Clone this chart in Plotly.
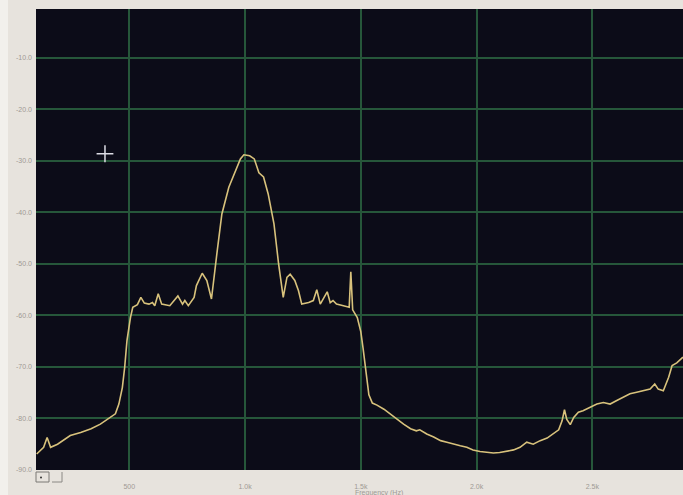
import plotly.graph_objects as go

# Spectrum trace: frequency (Hz) and level (dB)
freq_hz = [
    100, 130, 145, 160, 190, 220, 245, 290, 335, 375, 410, 440, 455, 470, 480, 490,
    505, 515, 535, 550, 565, 585, 600, 610, 625, 640, 675, 710, 730, 740, 755, 780,
    790, 815, 835, 855, 880, 900, 930, 960, 980, 995, 1010, 1020, 1040, 1050, 1060,
    1080, 1100, 1125, 1145, 1165, 1181, 1195, 1215, 1231, 1245, 1275, 1295, 1310,
    1325, 1355, 1368, 1380, 1395, 1425, 1450, 1457, 1465, 1485, 1500, 1510, 1525,
    1535, 1550, 1570, 1600, 1625, 1655, 1685, 1715, 1740, 1755, 1785, 1815, 1845,
    1872, 1900, 1930, 1958, 1985, 2015, 2045, 2073, 2100, 2131, 2160, 2188, 2217,
    2245, 2275, 2305, 2332, 2355, 2370, 2380, 2390, 2405, 2420, 2440, 2460, 2490,
    2520, 2548, 2577, 2606, 2635, 2663, 2692, 2720, 2750, 2770, 2785, 2807, 2830,
    2845, 2865, 2892,
]
level_db = [
    -86.9, -85.6, -83.7, -85.6, -85.0, -84.0, -83.3, -82.7, -82.0, -81.1, -80.1,
    -79.1, -77.2, -74.0, -70.1, -64.9, -60.4, -58.4, -57.9, -56.5, -57.6, -57.8,
    -57.5, -58.1, -55.8, -57.8, -58.1, -56.2, -57.8, -57.1, -58.1, -56.5, -54.2,
    -51.8, -53.2, -56.8, -47.4, -40.3, -35.1, -31.6, -29.6, -28.8, -28.9, -29.0,
    -29.6, -30.9, -32.3, -33.1, -36.4, -42.2, -50.0, -56.5, -52.6, -52.0, -53.2,
    -55.2, -57.8, -57.5, -57.1, -55.0, -57.8, -55.4, -57.5, -57.1, -57.8, -58.1,
    -58.4, -51.5, -58.9, -60.4, -63.1, -66.4, -72.0, -75.4, -77.0, -77.4, -78.2,
    -79.1, -80.1, -81.1, -82.0, -82.4, -82.2, -83.0, -83.6, -84.3, -84.6, -85.0,
    -85.3, -85.6, -86.1, -86.4, -86.6, -86.7, -86.6, -86.4, -86.1, -85.6, -84.6,
    -85.0, -84.3, -83.8, -83.0, -82.2, -80.4, -78.3, -80.2, -81.2, -79.8, -78.8,
    -78.5, -77.8, -77.2, -76.9, -77.2, -76.5, -75.9, -75.2, -74.9, -74.6, -74.3,
    -73.3, -74.3, -74.6, -72.0, -69.7, -69.2, -68.1,
]

# Axis ticks
x_tick_vals = [500, 1000, 1500, 2000, 2500]
x_tick_text = ["500", "1.0k", "1.5k", "2.0k", "2.5k"]
y_tick_vals = [-10, -20, -30, -40, -50, -60, -70, -80, -90]
y_tick_text = ["-10.0", "-20.0", "-30.0", "-40.0", "-50.0", "-60.0", "-70.0", "-80.0", "-90.0"]

# Cursor position
cursor_hz = [395]
cursor_db = [-28.6]

GRID = "#26573a"
LABEL = "#9e9a94"
PAPER = "#e7e3dd"

fig = go.Figure()
fig.add_trace(go.Scatter(
    x=freq_hz, y=level_db, mode="lines",
    line=dict(color="#d8c27c", width=1.6),
    hoverinfo="skip", showlegend=False,
))
fig.add_trace(go.Scatter(
    x=cursor_hz, y=cursor_db, mode="markers",
    marker=dict(symbol="cross-thin", size=12, line=dict(color="#dcdce4", width=1.5)),
    hoverinfo="skip", showlegend=False,
))

L, R, T, B = 36, 0, 9, 25
W, H = 683, 495
pw, ph = W - L - R, H - T - B


def px(xp):
    return (xp - L) / pw


def py(yp):
    return (H - B - yp) / ph


shapes = [
    # light strip on the far left of the panel
    dict(type="rect", xref="paper", yref="paper", x0=px(0), x1=px(8), y0=py(H), y1=py(0),
         fillcolor="#f2f0ec", line=dict(width=0), layer="below"),
    # small control box under the plot corner
    dict(type="rect", xref="paper", yref="paper", x0=px(36), x1=px(49), y0=py(482), y1=py(472),
         line=dict(color="#7a7874", width=1)),
    dict(type="path", xref="paper", yref="paper",
         path=f"M {px(52)} {py(482)} L {px(62)} {py(482)} L {px(62)} {py(472)}",
         line=dict(color="#8a8884", width=1)),
    dict(type="circle", xref="paper", yref="paper", x0=px(40), x1=px(42), y0=py(478.5), y1=py(476.5),
         fillcolor="#333", line=dict(width=0)),
]

fig.update_layout(
    width=W, height=H,
    margin=dict(l=L, r=R, t=T, b=B),
    paper_bgcolor=PAPER,
    plot_bgcolor="#0c0c18",
    font=dict(family="Liberation Sans, Arial, sans-serif", size=7, color=LABEL),
    shapes=shapes,
    annotations=[dict(
        text="Frequency (Hz)", xref="x", yref="paper", x=1465, y=py(493),
        xanchor="left", yanchor="middle", showarrow=False,
        font=dict(size=7, color=LABEL),
    )],
)
fig.update_xaxes(
    range=[97, 2892], tickvals=x_tick_vals, ticktext=x_tick_text,
    showgrid=True, gridcolor=GRID, gridwidth=1.5, zeroline=False,
    showline=False, ticks="", ticklabelstandoff=11,
)
fig.update_yaxes(
    range=[-90, -0.5], tickvals=y_tick_vals, ticktext=y_tick_text,
    showgrid=True, gridcolor=GRID, gridwidth=1.5, zeroline=False,
    showline=False, ticks="", ticklabelstandoff=3,
)

fig.write_html("out.html")
